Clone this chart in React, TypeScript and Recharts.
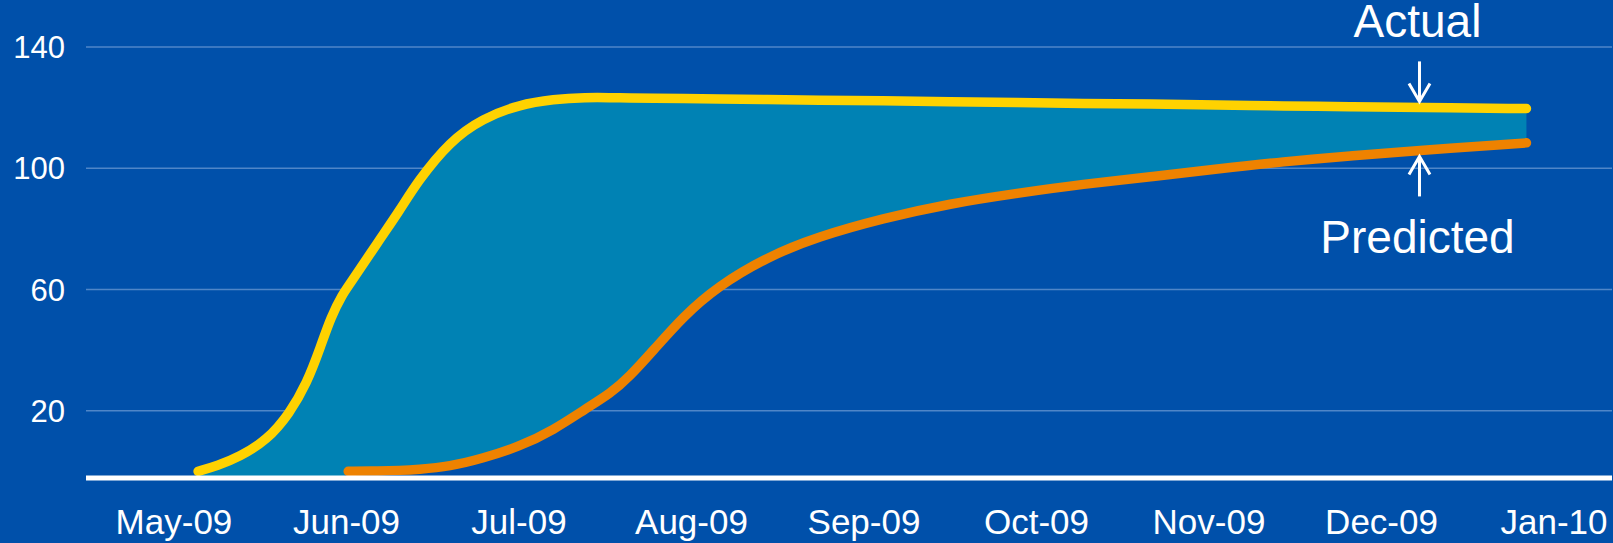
import { Area, CartesianGrid, ComposedChart, Line, ReferenceDot, ReferenceLine, XAxis, YAxis } from "recharts";

// x positions are in months from May-09 (0 = May-09 tick)
const monthLabels = ["May-09", "Jun-09", "Jul-09", "Aug-09", "Sep-09", "Oct-09", "Nov-09", "Dec-09", "Jan-10"];
const monthTicks = [0, 1, 2, 3, 4, 5, 6, 7, 8];
const yTicks = [20, 60, 100, 140];

const xPos = [
  0.14, 0.25, 0.38, 0.54, 0.67, 0.77, 0.85, 0.91, 0.98, 1.01, 1.19, 1.31, 1.41, 1.6, 1.79, 2.0, 2.2, 2.39, 2.53, 2.64,
  2.78, 2.95, 3.15, 3.44, 3.73, 4.11, 4.5, 4.89, 5.27, 5.66, 6.05, 6.43, 6.82, 7.2, 7.84,
];
const actual = [
  0, 1.8, 4.8, 10.3, 19.1, 29, 41.1, 51, 58.7, 61, 76.3, 86.2, 95.5, 109, 116.5, 121, 122.8, 123.4, 123.3, 123.2,
  123.1, 123, 122.9, 122.7, 122.5, 122.3, 122, 121.7, 121.4, 121.2, 120.9, 120.6, 120.3, 120.1, 119.7,
];
const predicted: (number | null)[] = [
  null, null, null, null, null, null, null, null, null, 0, 0.1, 0.3, 0.6, 1.6, 4.3, 8.1, 13.6, 20.8, 25.7, 31.2, 40,
  51, 61, 70.8, 77.4, 83.5, 88.4, 91.8, 94.8, 97.2, 99.8, 102.2, 104.1, 105.8, 108.4,
];

// arrow call-outs
const noteX = 7.22;
const noteActual = 120.1;
const notePredicted = 105.9;

const BG = "#0050AA";
const TEAL = "#0082B4";
const YELLOW = "#FFD200";
const ORANGE = "#EE8200";
const GRID = "#4F86C8";
const FONT = "'Liberation Sans', Arial, sans-serif";
const FLOOR = -2.2;
const CEIL = 150;
const CURVE = "basis";

const data = xPos.map((m, i) => ({
  m,
  actual: actual[i],
  predicted: predicted[i],
  band: [predicted[i] ?? FLOOR, actual[i]],
}));

// grid only at the labelled ticks (no line on the plot's top edge)
const gridRows = ({ offset }: any) =>
  yTicks.map(t => offset.top + (offset.height * (CEIL - t)) / (CEIL - FLOOR));

function Arrow({ x, from, to }: { x: number; from: number; to: number }) {
  const dir = to > from ? 1 : -1;
  return (
    <g stroke="#fff" strokeWidth={3} fill="none">
      <line x1={x} y1={from} x2={x} y2={to} />
      <polyline points={`${x - 10.5},${to - dir * 18} ${x},${to} ${x + 10.5},${to - dir * 18}`} />
    </g>
  );
}

function ActualNote(props: any) {
  const { cx, cy } = props;
  if (cx == null || cy == null) return null;
  return (
    <g>
      <Arrow x={cx} from={cy - 46} to={cy - 6} />
      <text x={cx - 2} y={cy - 70} textAnchor="middle" fontSize={46} fill="#fff" fontFamily={FONT}>
        Actual
      </text>
    </g>
  );
}

function PredictedNote(props: any) {
  const { cx, cy } = props;
  if (cx == null || cy == null) return null;
  return (
    <g>
      <Arrow x={cx} from={cy + 46} to={cy + 6} />
      <text x={cx - 2} y={cy + 103} textAnchor="middle" fontSize={46} fill="#fff" fontFamily={FONT}>
        Predicted
      </text>
    </g>
  );
}

export default function App() {
  return (
    <div style={{ position: "absolute", left: 0, top: 0, width: 1613, height: 543, background: BG, fontFamily: FONT }}>
      <ComposedChart width={1613} height={543} data={data} margin={{ top: 16.8, right: 1, bottom: 0, left: 0 }}>
        <CartesianGrid vertical={false} stroke={GRID} strokeWidth={1.5} horizontalCoordinatesGenerator={gridRows} />
        <XAxis
          dataKey="m"
          type="number"
          domain={[-0.51, 8.336]}
          ticks={monthTicks}
          interval={0}
          tickFormatter={(v: number) => monthLabels[v] ?? ""}
          height={65}
          tickSize={0}
          tickMargin={31}
          axisLine={false}
          tick={{ fill: "#fff", fontSize: 35, fontFamily: FONT }}
        />
        <YAxis
          type="number"
          domain={[FLOOR, CEIL]}
          ticks={yTicks}
          width={86}
          tickSize={0}
          tickMargin={21}
          axisLine={false}
          tick={{ fill: "#fff", fontSize: 31, fontFamily: FONT }}
        />

        <Area
          type={CURVE}
          dataKey="band"
          fill={TEAL}
          fillOpacity={1}
          stroke="none"
          isAnimationActive={false}
          activeDot={false}
        />
        <Line
          type={CURVE}
          dataKey="predicted"
          stroke={ORANGE}
          strokeWidth={9.5}
          strokeLinecap="round"
          dot={false}
          activeDot={false}
          isAnimationActive={false}
        />
        <Line
          type={CURVE}
          dataKey="actual"
          stroke={YELLOW}
          strokeWidth={9.5}
          strokeLinecap="round"
          dot={false}
          activeDot={false}
          isAnimationActive={false}
        />

        <ReferenceLine y={FLOOR} stroke="#fff" strokeWidth={5} />

        <ReferenceDot x={noteX} y={noteActual} r={0} shape={<ActualNote />} />
        <ReferenceDot x={noteX} y={notePredicted} r={0} shape={<PredictedNote />} />
      </ComposedChart>
    </div>
  );
}
